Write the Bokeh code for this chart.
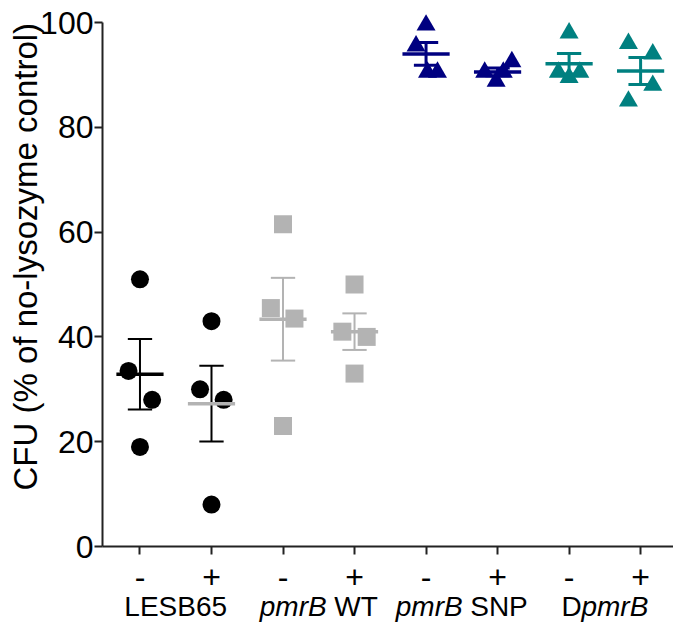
import math
import numpy as np
from bokeh.plotting import figure
from bokeh.models import Range1d, FixedTicker, Label, LinearAxis
from bokeh.embed import file_html
from bokeh.resources import INLINE

# ---- data ----
conditions = ["-", "+", "-", "+", "-", "+", "-", "+"]
strain_names = ["LESB65", "pmrB WT", "pmrB SNP", "DpmrB"]
y_ticks = [0, 20, 40, 60, 80, 100]

lesb65_minus = [51.0, 33.5, 28.0, 19.0]
lesb65_plus = [43.0, 30.0, 28.0, 8.0]
wt_minus = [61.5, 45.5, 43.5, 23.0]
wt_plus = [50.0, 41.0, 40.0, 33.0]
snp_minus = [99.5, 95.5, 90.5, 90.5]
snp_plus = [92.5, 90.5, 88.8, 90.5]
del_minus = [98.0, 90.5, 90.5, 89.5]
del_plus = [96.0, 94.0, 88.0, 85.0]

groups = [lesb65_minus, lesb65_plus, wt_minus, wt_plus,
          snp_minus, snp_plus, del_minus, del_plus]

# horizontal spread of the replicate points (category units)
spread = [
    [0.0, -0.16, 0.17, 0.0],
    [0.0, -0.16, 0.17, 0.0],
    [0.0, -0.17, 0.16, 0.0],
    [0.0, -0.17, 0.17, 0.0],
    [0.0, -0.14, 0.02, 0.16],
    [0.2, -0.18, -0.02, 0.08],
    [0.0, -0.15, 0.15, 0.0],
    [-0.17, 0.17, 0.17, -0.17],
]

BLACK = "#000000"
GRAY = "#b3b3b3"
NAVY = "#000080"
TEAL = "#008080"

markers = ["circle", "circle", "square", "square",
           "triangle", "triangle", "triangle", "triangle"]
point_colors = [BLACK, BLACK, GRAY, GRAY, NAVY, NAVY, TEAL, TEAL]
mean_colors = [BLACK, GRAY, GRAY, GRAY, NAVY, NAVY, TEAL, TEAL]
bar_colors = [BLACK, BLACK, GRAY, GRAY, NAVY, NAVY, TEAL, TEAL]
bar_widths = [2, 2, 2, 2, 3, 3, 3, 3]

FONT = "Liberation Sans"
W, H = 673, 628
LEFT, BOTTOM = 100, 82
X0, X1 = 0.476, 8.46
Y0, Y1 = 0, 104.2

p = figure(width=W, height=H, output_backend="svg", toolbar_location=None,
           x_range=Range1d(X0, X1), y_range=Range1d(Y0, Y1),
           min_border_left=LEFT, min_border_right=0,
           min_border_top=0, min_border_bottom=BOTTOM)
p.outline_line_color = None
p.xgrid.visible = False
p.ygrid.visible = False
p.background_fill_color = "white"
p.border_fill_color = "white"

# points
for i, vals in enumerate(groups):
    xs = [i + 1 + d for d in spread[i]]
    p.scatter(xs, vals, marker=markers[i], size=19 if markers[i] == "triangle" else 18,
              fill_color=point_colors[i], line_color=None)

# mean and SEM
for i, vals in enumerate(groups):
    arr = np.array(vals)
    m = arr.mean()
    sem = arr.std(ddof=1) / math.sqrt(len(arr))
    c = i + 1
    p.segment([c], [m - sem], [c], [m + sem], line_color=bar_colors[i], line_width=bar_widths[i])
    p.segment([c - 0.17, c - 0.17], [m - sem, m + sem], [c + 0.17, c + 0.17], [m - sem, m + sem],
              line_color=bar_colors[i], line_width=bar_widths[i])
    p.segment([c - 0.33], [m], [c + 0.33], [m], line_color=mean_colors[i], line_width=3.5)

# axes
for ax in (p.xaxis[0], p.yaxis[0]):
    ax.axis_line_width = 2
    ax.axis_line_color = "#222222"
    ax.major_tick_line_width = 2
    ax.major_tick_line_color = "#222222"
    ax.major_tick_in = 0
    ax.major_tick_out = 8
    ax.minor_tick_line_color = None
    ax.major_label_text_font = FONT
    ax.major_label_text_color = "black"

p.yaxis.ticker = FixedTicker(ticks=y_ticks)
p.yaxis.bounds = (0, 100)
p.yaxis.major_label_text_font_size = "32px"
p.yaxis.major_label_standoff = 1

p.xaxis.ticker = FixedTicker(ticks=list(range(1, len(conditions) + 1)))
p.xaxis.major_label_overrides = {i + 1: c for i, c in enumerate(conditions)}
p.xaxis.major_label_text_font_size = "32px"
p.xaxis.major_label_standoff = 11

# ---- strain labels: two extra label-only axes (italic and upright pieces) ----
FS = 28
px_per_unit = (W - LEFT) / (X1 - X0)
u = FS / px_per_unit  # one em in data units
# Arial advance widths (em)
adv = {"pmrB": 2.389, " ": 0.278, "WT": 1.555, "SNP": 2.056, "D": 0.722, "LESB65": 3.669}

def centres(cx, pieces):
    total = sum(adv[t] for t, _ in pieces)
    left = cx - total / 2 * u
    out = []
    for t, it in pieces:
        w = adv[t] * u
        if t != " ":
            out.append((left + w / 2, t, it))
        left += w
    return out

layout_pieces = []
layout_pieces += centres(1.5, [("LESB65", False)])
layout_pieces += centres(3.5, [("pmrB", True), (" ", False), ("WT", False)])
layout_pieces += centres(5.5, [("pmrB", True), (" ", False), ("SNP", False)])
layout_pieces += centres(7.5, [("D", False), ("pmrB", True)])

def label_axis(items, style, standoff):
    ticks = [round(x, 6) for x, _, _ in items]
    ax = LinearAxis(ticker=FixedTicker(ticks=ticks),
                    major_label_overrides={t: txt for t, (_, txt, _) in zip(ticks, items)},
                    axis_line_color=None, major_tick_line_color=None,
                    minor_tick_line_color=None, major_tick_out=0, major_tick_in=0,
                    major_label_standoff=standoff, major_label_text_font=FONT,
                    major_label_text_font_size=f"{FS}px", major_label_text_color="black",
                    major_label_text_font_style=style)
    p.add_layout(ax, "below")

label_axis([it for it in layout_pieces if it[2]], "italic", 0)
label_axis([it for it in layout_pieces if not it[2]], "normal", -34)

# y-axis title (in the left panel so it is not clipped)
p.add_layout(Label(x=-0.6, y=55.3, text="CFU (% of no-lysozyme control)", angle=math.pi / 2,
                   text_align="center", text_baseline="middle", text_font=FONT,
                   text_font_size="33px", text_color="black"), "left")

open("out.html", "w").write(file_html(p, INLINE))
